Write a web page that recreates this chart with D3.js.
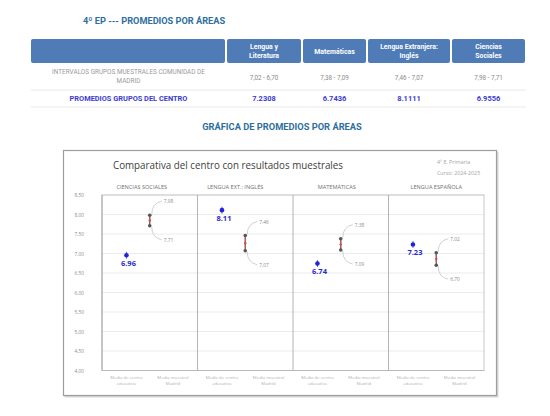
<!DOCTYPE html>
<html>
<head>
<meta charset="utf-8">
<script src="https://cdn.jsdelivr.net/npm/d3@7"></script>
<style>
  body { margin: 0; background: #fff; }
  svg { display: block; }
</style>
</head>
<body>
<script>
// Areas as listed in the table (left to right)
var areas = ["Lengua y Literatura", "Matemáticas", "Lengua Extranjera: Inglés", "Ciencias Sociales"];
var areaHeader = [["Lengua y", "Literatura"], ["Matemáticas"], ["Lengua Extranjera:", "Inglés"], ["Ciencias", "Sociales"]];

// Sample group interval (Comunidad de Madrid) and centre averages
var sampleHigh = [7.02, 7.38, 7.46, 7.98];
var sampleLow = [6.70, 7.09, 7.07, 7.71];
var centreMean = [7.2308, 6.7436, 8.1111, 6.9556];

// Chart panels, in the order they appear in the chart
var chartAreas = ["CIENCIAS SOCIALES", "LENGUA EXT.: INGLÉS", "MATEMÁTICAS", "LENGUA ESPAÑOLA"];
var chartIndex = [3, 2, 1, 0];   // index into the table arrays above

// Y axis ticks
var yTicks = [4, 4.5, 5, 5.5, 6, 6.5, 7, 7.5, 8, 8.5];
var xCats = [["Media de centro", "educativo"], ["Media muestral", "Madrid"]];

var es = d3.formatLocale({decimal: ",", thousands: ".", grouping: [3], currency: ["", "€"]});
var fmtComma = es.format(".2f");

var svg = d3.select("body").append("svg")
    .attr("width", 550)
    .attr("height", 416);

// ---------- Table ----------
var tfont = "Roboto, 'Open Sans', sans-serif";

svg.append("text")
    .attr("x", 83).attr("y", 24)
    .attr("font-family", tfont).attr("font-size", 9.2).attr("font-weight", "bold")
    .attr("fill", "#2e6e9e")
    .text("4º EP --- PROMEDIOS POR ÁREAS");

var colEdges = [31, 226, 302, 367, 451, 526];
var headTop = 39, headH = 24;

var head = svg.append("g");
d3.range(5).forEach(function(i) {
    head.append("rect")
        .attr("x", colEdges[i] + (i ? 1 : 0))
        .attr("y", headTop)
        .attr("width", colEdges[i + 1] - colEdges[i] - (i ? 1 : 0) - 1)
        .attr("height", headH)
        .attr("rx", 2)
        .attr("fill", "#4f7bb6");
});

areaHeader.forEach(function(lines, i) {
    var cx = (colEdges[i + 1] + colEdges[i + 2]) / 2;
    var t = head.append("text")
        .attr("x", cx)
        .attr("y", headTop + headH / 2 - (lines.length - 1) * 4.3 + 2.5)
        .attr("text-anchor", "middle")
        .attr("font-family", tfont).attr("font-size", 6.9).attr("font-weight", "bold")
        .attr("fill", "#fff");
    lines.forEach(function(l, j) {
        t.append("tspan").attr("x", cx).attr("dy", j ? 8.6 : 0).text(l);
    });
});

// row: sample intervals
var row1 = svg.append("g");
var firstCx = (colEdges[0] + colEdges[1]) / 2;
var lbl = row1.append("text")
    .attr("x", firstCx).attr("y", 74)
    .attr("text-anchor", "middle")
    .attr("font-family", tfont).attr("font-size", 6.4)
    .attr("fill", "#9a9a9a");
lbl.append("tspan").attr("x", firstCx).text("INTERVALOS GRUPOS MUESTRALES COMUNIDAD DE");
lbl.append("tspan").attr("x", firstCx).attr("dy", 8.8).text("MADRID");

areas.forEach(function(a, i) {
    row1.append("text")
        .attr("x", (colEdges[i + 1] + colEdges[i + 2]) / 2)
        .attr("y", 79.5)
        .attr("text-anchor", "middle")
        .attr("font-family", tfont).attr("font-size", 6.3)
        .attr("fill", "#8a8a8a")
        .text(fmtComma(sampleHigh[i]) + " - " + fmtComma(sampleLow[i]));
});

svg.append("line").attr("x1", 31).attr("x2", colEdges[5]).attr("y1", 90).attr("y2", 90)
    .attr("stroke", "#e2e2e2").attr("stroke-width", 0.8);
svg.append("line").attr("x1", 31).attr("x2", colEdges[5]).attr("y1", 107).attr("y2", 107)
    .attr("stroke", "#e2e2e2").attr("stroke-width", 0.8);

// row: centre averages
svg.append("text")
    .attr("x", firstCx).attr("y", 101)
    .attr("text-anchor", "middle")
    .attr("font-family", tfont).attr("font-size", 7.4).attr("font-weight", "bold")
    .attr("fill", "#3b3bcf")
    .text("PROMEDIOS GRUPOS DEL CENTRO");

areas.forEach(function(a, i) {
    svg.append("text")
        .attr("x", (colEdges[i + 1] + colEdges[i + 2]) / 2)
        .attr("y", 101)
        .attr("text-anchor", "middle")
        .attr("font-family", tfont).attr("font-size", 7.5).attr("font-weight", "bold")
        .attr("fill", "#3b3bcf")
        .text(centreMean[i].toFixed(4));
});

svg.append("text")
    .attr("x", 282).attr("y", 130)
    .attr("text-anchor", "middle")
    .attr("font-family", tfont).attr("font-size", 9.3).attr("font-weight", "bold")
    .attr("fill", "#2e6e9e")
    .text("GRÁFICA DE PROMEDIOS POR ÁREAS");

// ---------- Chart ----------
var cfont = "'Open Sans', 'DejaVu Sans', sans-serif";

// frame with a soft shadow
svg.append("rect").attr("x", 64.5).attr("y", 151.5).attr("width", 434).attr("height", 246)
    .attr("fill", "#d6d6d6");
svg.append("rect").attr("x", 63.5).attr("y", 150.5).attr("width", 433).attr("height", 245)
    .attr("fill", "#fff").attr("stroke", "#9d9d9d").attr("stroke-width", 1.2);

svg.append("text")
    .attr("x", 113).attr("y", 169)
    .attr("font-family", cfont).attr("font-size", 10.5)
    .attr("fill", "#404040")
    .attr("textLength", 230).attr("lengthAdjust", "spacingAndGlyphs")
    .text("Comparativa del centro con resultados muestrales");

svg.append("text").attr("x", 437).attr("y", 164)
    .attr("font-family", cfont).attr("font-size", 5.3).attr("fill", "#a5a5a5")
    .text("4º E. Primaria");
svg.append("text").attr("x", 437).attr("y", 175)
    .attr("font-family", cfont).attr("font-size", 5.3).attr("fill", "#a5a5a5")
    .text("Curso: 2024-2025");

var plotL = 102, plotR = 484, plotT = 195, plotB = 370.5;

var y = d3.scaleLinear().domain([4, 8.5]).range([plotB, plotT]);
var x0 = d3.scaleBand().domain(chartAreas).range([plotL, plotR]);
var x1 = d3.scalePoint().domain(["centro", "mid", "muestra"])
    .range([0, x0.bandwidth()]).padding(1.05);

var plot = svg.append("g");

// grid
plot.selectAll("line.grid").data(yTicks).enter().append("line")
    .attr("class", "grid")
    .attr("x1", plotL).attr("x2", plotR)
    .attr("y1", function(d) { return y(d); })
    .attr("y2", function(d) { return y(d); })
    .attr("stroke", "#e6e6e6").attr("stroke-width", 0.8);

plot.append("rect")
    .attr("x", plotL).attr("y", plotT)
    .attr("width", plotR - plotL).attr("height", plotB - plotT)
    .attr("fill", "none").attr("stroke", "#c8c8c8").attr("stroke-width", 1);

// panel dividers
plot.selectAll("line.div").data(chartAreas.slice(1)).enter().append("line")
    .attr("class", "div")
    .attr("x1", function(d) { return x0(d); })
    .attr("x2", function(d) { return x0(d); })
    .attr("y1", plotT).attr("y2", plotB)
    .attr("stroke", "#b4b4b4").attr("stroke-width", 1);

plot.append("line").attr("x1", plotL).attr("x2", plotL).attr("y1", plotT).attr("y2", plotB)
    .attr("stroke", "#a8a8a8").attr("stroke-width", 1);
plot.append("line").attr("x1", plotL).attr("x2", plotR).attr("y1", plotB).attr("y2", plotB)
    .attr("stroke", "#b8b8b8").attr("stroke-width", 1);

// y axis labels
var yAxis = d3.axisLeft(y).tickValues(yTicks).tickFormat(fmtComma).tickSize(0).tickPadding(18);
var ya = svg.append("g").attr("transform", "translate(" + plotL + ",0)").call(yAxis);
ya.select(".domain").remove();
ya.selectAll("text").attr("font-family", cfont).attr("font-size", 4.8).attr("fill", "#8a8a8a");

// panel headers
svg.selectAll("text.ph").data(chartAreas).enter().append("text")
    .attr("class", "ph")
    .attr("x", function(d, i) { return x0(d) + x0.bandwidth() / 2 - [8, 10, 4, 0][i]; })
    .attr("y", 189)
    .attr("text-anchor", "middle")
    .attr("font-family", cfont).attr("font-size", 5.6)
    .attr("fill", "#6f6f6f")
    .text(function(d) { return d; });

// category labels under each panel
chartAreas.forEach(function(a) {
    ["centro", "muestra"].forEach(function(c, k) {
        var cx = x0(a) + x1(c);
        var t = svg.append("text")
            .attr("x", cx).attr("y", 379)
            .attr("text-anchor", "middle")
            .attr("font-family", cfont).attr("font-size", 4.3)
            .attr("fill", "#b0b0b0");
        xCats[k].forEach(function(l, j) {
            t.append("tspan").attr("x", cx).attr("dy", j ? 6 : 0).text(l);
        });
    });
});

// sample interval bars with curved leaders
var panels = plot.selectAll("g.panel").data(chartAreas).enter().append("g")
    .attr("class", "panel")
    .attr("transform", function(d) { return "translate(" + x0(d) + ",0)"; });

panels.each(function(d, p) {
    var g = d3.select(this);
    var i = chartIndex[p];
    var bx = x1("mid");
    var hi = y(sampleHigh[i]), lo = y(sampleLow[i]), cx = x1("centro");

    g.append("path")
        .attr("d", "M" + (bx + 2) + "," + (hi - 1) + " Q" + (bx + 2) + "," + (hi - 12) + " " + (bx + 12) + "," + (hi - 14))
        .attr("fill", "none").attr("stroke", "#c4c4c4").attr("stroke-width", 0.8);
    g.append("path")
        .attr("d", "M" + (bx + 2) + "," + (lo + 1) + " Q" + (bx + 2) + "," + (lo + 12) + " " + (bx + 12) + "," + (lo + 14))
        .attr("fill", "none").attr("stroke", "#c4c4c4").attr("stroke-width", 0.8);

    g.append("line")
        .attr("x1", bx).attr("x2", bx).attr("y1", hi).attr("y2", lo)
        .attr("stroke", "#555").attr("stroke-width", 1.2);
    g.append("line")
        .attr("x1", bx).attr("x2", bx).attr("y1", hi + 2.5).attr("y2", lo - 2.5)
        .attr("stroke", "#d9534f").attr("stroke-width", 1.2).attr("stroke-dasharray", "1.5,1");
    [hi, lo].forEach(function(v) {
        g.append("circle").attr("cx", bx).attr("cy", v).attr("r", 1.8).attr("fill", "#555");
    });
    g.append("circle").attr("cx", bx).attr("cy", (hi + lo) / 2).attr("r", 1.2).attr("fill", "#e0453a");

    g.append("text").attr("x", bx + 14).attr("y", hi - 12)
        .attr("font-family", cfont).attr("font-size", 4.8).attr("fill", "#8a8a8a")
        .text(fmtComma(sampleHigh[i]));
    g.append("text").attr("x", bx + 14).attr("y", lo + 16)
        .attr("font-family", cfont).attr("font-size", 4.8).attr("fill", "#8a8a8a")
        .text(fmtComma(sampleLow[i]));

    // centre mean
    var cy = y(centreMean[i]);
    g.append("line")
        .attr("x1", cx).attr("x2", cx).attr("y1", cy - 3.5).attr("y2", cy + 3.5)
        .attr("stroke", "#2323d6").attr("stroke-width", 0.7);
    g.append("circle").attr("cx", cx).attr("cy", cy).attr("r", 2.3).attr("fill", "#2323d6");
    g.append("text").attr("x", cx + 2).attr("y", cy + 11)
        .attr("text-anchor", "middle")
        .attr("font-family", cfont).attr("font-size", 7.5).attr("font-weight", "bold")
        .attr("fill", "#2a2ad4")
        .text(centreMean[i].toFixed(2));
});
</script>
</body>
</html>
